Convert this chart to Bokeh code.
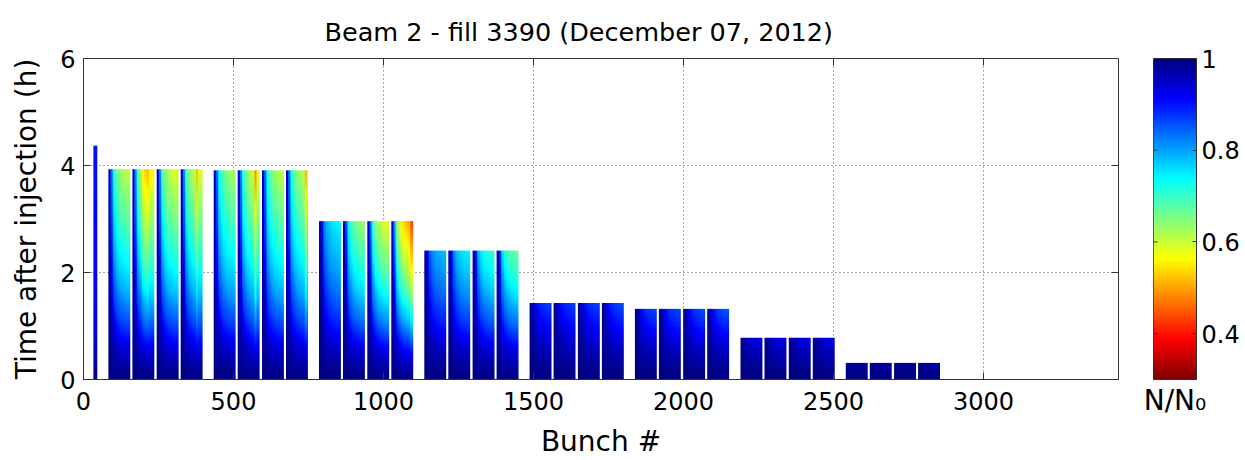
import numpy as np
from bokeh.plotting import figure
from bokeh.models import (LinearColorMapper, FixedTicker, Range1d, ColumnDataSource)
from bokeh.layouts import row
from bokeh.embed import file_html
from bokeh.resources import INLINE

# ---------------- data ----------------
title_text = "Beam 2 - fill 3390 (December 07, 2012)"
x_ticks = [0, 500, 1000, 1500, 2000, 2500, 3000]
y_ticks = [0, 2, 4, 6]
cbar_ticks = [0.4, 0.6, 0.8, 1.0]
cbar_low, cbar_high = 0.3, 1.0
x_max, y_max = 3450, 6

# pilot bunch block
pilot_first_bunch = 33
pilot_n_slots = 13
pilot_end_h = 4.37

# 8 injections of 4 trains each
group_first_bunch = [83, 434, 785, 1136, 1487, 1838, 2190, 2541]
group_end_h = [3.93, 3.91, 2.96, 2.41, 1.43, 1.32, 0.78, 0.31]
train_offset = [0, 80, 161, 241]
train_n_slots = 73

# N/N0 of the last bunches of a train versus time after injection
time_h = [0, 0.25, 0.5, 0.75, 1.0, 1.25, 1.5, 1.75, 2.0, 2.25, 2.5,
          2.75, 3.0, 3.25, 3.5, 3.75, 4.0, 4.25, 4.5]
tail_survival = [1.0, 0.975, 0.945, 0.905, 0.865, 0.835, 0.80, 0.775, 0.75,
                 0.73, 0.71, 0.69, 0.67, 0.655, 0.635, 0.615, 0.60, 0.585, 0.57]
pilot_survival = [0.995, 0.975, 0.955, 0.94, 0.93, 0.925, 0.92, 0.918, 0.916,
                  0.914, 0.912, 0.91, 0.908, 0.906, 0.904, 0.902, 0.9, 0.9, 0.9]
# how fast each part of a train (head -> tail, 12 slices) follows the tail curve
position_time_scale = [0.12, 0.32, 0.52, 0.66, 0.77, 0.85, 0.90, 0.94,
                       0.96, 0.98, 0.99, 1.0]
# loss scale of every train (rows: injections, cols: trains)
train_loss_scale = [
    [1.00, 1.13, 1.06, 1.06],
    [0.96, 1.06, 1.00, 1.00],
    [0.80, 1.13, 1.30, 1.55],
    [0.78, 0.92, 1.06, 1.20],
    [0.70, 0.70, 0.72, 0.75],
    [0.78, 0.80, 0.82, 0.85],
    [0.80, 0.80, 0.80, 0.80],
    [1.00, 1.00, 1.00, 1.00],
]
# hot slices (extra losses)
hot_group = [0, 0, 0, 0, 0, 1, 1, 2, 2]
hot_train = [1, 1, 1, 1, 3, 1, 3, 3, 3]
hot_slice = [5, 6, 7, 8, 8, 9, 10, 10, 11]
hot_loss_scale = [1.1, 1.12, 1.12, 1.1, 1.25, 1.25, 1.25, 1.12, 1.12]

# ---------------- colour map (reversed jet) ----------------
def jet_hex(x):
    r = np.clip(1.5 - abs(4 * x - 3), 0, 1)
    g = np.clip(1.5 - abs(4 * x - 2), 0, 1)
    b = np.clip(1.5 - abs(4 * x - 1), 0, 1)
    return "#%02x%02x%02x" % (int(r * 255), int(g * 255), int(b * 255))

jet = [jet_hex(x) for x in np.linspace(0, 1, 256)]
mapper = LinearColorMapper(palette=jet[::-1], low=cbar_low, high=cbar_high)

# ---------------- build images ----------------
rows_per_hour = 20
k = np.array(position_time_scale)
imgs, xs, ys, dws, dhs = [], [], [], [], []

n = max(2, int(round(pilot_end_h * rows_per_hour)))
t = (np.arange(n) + 0.5) * pilot_end_h / n
imgs.append(np.interp(t, time_h, pilot_survival).reshape(-1, 1))
xs.append(pilot_first_bunch); ys.append(0); dws.append(pilot_n_slots); dhs.append(pilot_end_h)

for g, (start, end) in enumerate(zip(group_first_bunch, group_end_h)):
    n = max(2, int(round(end * rows_per_hour)))
    t = (np.arange(n) + 0.5) * end / n
    loss = 1.0 - np.interp(np.outer(t, k), time_h, tail_survival)
    for j, off in enumerate(train_offset):
        m = np.full(len(k), train_loss_scale[g][j])
        for hg, ht, hs, hf in zip(hot_group, hot_train, hot_slice, hot_loss_scale):
            if hg == g and ht == j:
                m[hs] *= hf
        vals = np.clip(1.0 - loss * m, cbar_low, cbar_high)
        imgs.append(vals)
        xs.append(start + off); ys.append(0); dws.append(train_n_slots); dhs.append(end)

src = ColumnDataSource(dict(image=imgs, x=xs, y=ys, dw=dws, dh=dhs))

FONT = "DejaVu Sans"
AX = "#333333"

# ---------------- main figure ----------------
ML, MR, MT, MB = 83, 6, 57, 81
W, H = 1124, 460
p = figure(width=W, height=H, x_range=Range1d(0, x_max), y_range=Range1d(0, y_max),
           output_backend="svg", toolbar_location=None, title=title_text,
           min_border_left=ML, min_border_right=MR, min_border_top=MT, min_border_bottom=MB)
p.image(image="image", x="x", y="y", dw="dw", dh="dh", source=src, color_mapper=mapper)

p.title.text_font = FONT
p.title.text_font_size = "25.5px"
p.title.text_font_style = "normal"
p.title.text_color = "black"
p.title.align = "left"
p.title.offset = 241
p.title.standoff = 23

p.xaxis.ticker = FixedTicker(ticks=x_ticks)
p.yaxis.ticker = FixedTicker(ticks=y_ticks)
p.xaxis.axis_label = "Bunch #"
p.yaxis.axis_label = "Time after injection (h)"
for ax in (p.xaxis[0], p.yaxis[0]):
    ax.major_label_text_font = FONT
    ax.major_label_text_font_size = "24px"
    ax.major_label_text_color = "black"
    ax.axis_label_text_font = FONT
    ax.axis_label_text_font_size = "28px"
    ax.axis_label_text_font_style = "normal"
    ax.axis_label_text_color = "black"
    ax.major_tick_in = 7
    ax.major_tick_out = 0
    ax.minor_tick_in = 0
    ax.minor_tick_out = 0
    ax.axis_line_color = AX
    ax.major_tick_line_color = AX
p.xaxis.major_label_standoff = 12
p.xaxis.axis_label_standoff = 12
p.yaxis.major_label_standoff = 8
p.yaxis.axis_label_standoff = 14

# inward ticks on the top and right sides of the box
frame_w, frame_h = W - ML - MR, H - MT - MB
tick_len_px = 7
ty = y_max * tick_len_px / frame_h
tx = x_max * tick_len_px / frame_w
p.segment(x0=x_ticks, y0=[y_max] * len(x_ticks), x1=x_ticks, y1=[y_max - ty] * len(x_ticks),
          line_color=AX, line_width=1)
p.segment(x0=[x_max] * len(y_ticks), y0=y_ticks, x1=[x_max - tx] * len(y_ticks), y1=y_ticks,
          line_color=AX, line_width=1)

for grid in (p.xgrid[0], p.ygrid[0]):
    grid.grid_line_color = "#222222"
    grid.grid_line_alpha = 0.8
    grid.grid_line_dash = "1 3"
    grid.grid_line_width = 1
p.xgrid.ticker = FixedTicker(ticks=x_ticks)
p.ygrid.ticker = FixedTicker(ticks=y_ticks)
p.outline_line_color = AX
p.outline_line_width = 1
p.background_fill_color = "white"
p.border_fill_color = "white"

# ---------------- colour bar figure ----------------
CL, CR, CT, CB = 29, 45, 58, 79
CW = 118
cb = figure(width=CW, height=H, x_range=Range1d(0, 1), y_range=Range1d(cbar_low, cbar_high),
            output_backend="svg", toolbar_location=None, y_axis_location="right",
            min_border_left=CL, min_border_right=CR, min_border_top=CT, min_border_bottom=CB)
cb.image(image=[np.linspace(cbar_low, cbar_high, 256).reshape(-1, 1)], x=0, y=cbar_low,
         dw=1, dh=cbar_high - cbar_low, color_mapper=mapper)
cb.xgrid.visible = False
cb.ygrid.visible = False
cb.yaxis.ticker = FixedTicker(ticks=cbar_ticks)
cb.yaxis.major_label_overrides = {1: "1"}
cb.yaxis.major_label_text_font = FONT
cb.yaxis.major_label_text_font_size = "24px"
cb.yaxis.major_label_text_color = "black"
cb.yaxis.major_label_standoff = 5
cb.yaxis.major_tick_in = 4
cb.yaxis.major_tick_out = 0
cb.yaxis.minor_tick_in = 0
cb.yaxis.minor_tick_out = 0
cb.yaxis.axis_line_color = AX
cb.yaxis.major_tick_line_color = AX
# colour-bar title below the bar
cb.xaxis.ticker = FixedTicker(ticks=[])
cb.xaxis.axis_line_color = None
cb.xaxis.major_tick_in = 0
cb.xaxis.major_tick_out = 0
cb.xaxis.minor_tick_in = 0
cb.xaxis.minor_tick_out = 0
cb.xaxis.axis_label = "N/N\u2080"
cb.xaxis.axis_label_text_font = FONT
cb.xaxis.axis_label_text_font_size = "28px"
cb.xaxis.axis_label_text_font_style = "normal"
cb.xaxis.axis_label_text_color = "black"
cb.xaxis.axis_label_standoff = 4
cb_ticks_in = cbar_ticks[:-1]
cb.segment(x0=[0] * len(cb_ticks_in), y0=cb_ticks_in, x1=[4 / 44] * len(cb_ticks_in),
           y1=cb_ticks_in, line_color=AX, line_width=1)
cb.outline_line_color = AX

layout = row(p, cb)
open("out.html", "w").write(file_html(layout, INLINE))
